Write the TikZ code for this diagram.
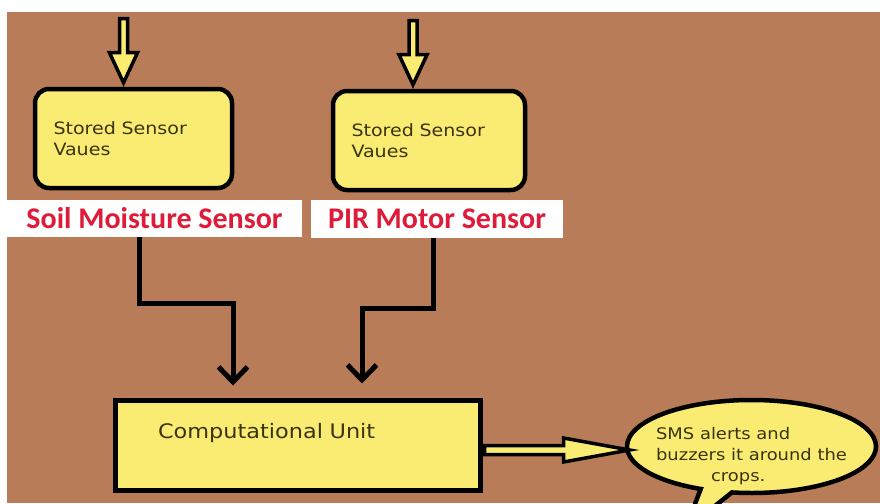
\documentclass[tikz,border=0pt]{standalone}
\usepackage{fontspec}
\newfontfamily\verd[FakeStretch=1.12]{DejaVu Sans}
\newfontfamily\labfont{Carlito}
\usetikzlibrary{arrows.meta, shapes.callouts}
\definecolor{soil}{RGB}{185,124,89}
\definecolor{boxyellow}{RGB}{250,236,115}
\definecolor{boxtext}{RGB}{58,52,14}
\definecolor{labred}{RGB}{222,28,58}
\tikzset{
	storebox/.style={rectangle, rounded corners=14pt, draw, line width=4.5pt, fill=boxyellow, minimum width=197pt, minimum height=99pt, text width=160pt, inner xsep=18pt, align=left, text=boxtext, font=\verd\fontsize{17}{21}\selectfont},
	namebox/.style={fill=white, inner sep=0pt, minimum height=37pt, text=labred, font=\labfont\bfseries\fontsize{30}{32}\selectfont},
	unitbox/.style={rectangle, draw, line width=5pt, fill=boxyellow, minimum width=365pt, minimum height=90pt, text width=279pt, inner xsep=43pt, align=left, text=boxtext, font=\verd\fontsize{20}{24}\selectfont},
	conn/.style={line width=5pt, -{Straight Barb[length=15pt, width=29pt]}},
	pics/blockarrow/.style n args={4}{code={
		\draw[line width=3.5pt, fill=boxyellow, line join=miter] (0,0) -- (-#2,#3) -- (-#2,#4) -- (-#1,#4) -- (-#1,-#4) -- (-#2,-#4) -- (-#2,-#3) -- cycle;
	}}
}
\begin{document}
\begin{tikzpicture}[x=1pt, y=-1pt]
	% Background, boxes and wires:
	\clip (0,0) rectangle (880,503);
	\fill[white] (0,0) rectangle (880,503);
	\fill[soil] (7,12) rectangle (880,503);
	\node[storebox] (s1) at (133.5,138.5) {Stored Sensor\\Vaues};
	\node[storebox, minimum width=192pt, text width=155pt] (s2) at (429,140.5) {Stored Sensor\\Vaues};
	\pic[rotate=-90] at ([xshift=-10pt,yshift=4pt]s1.north) {blockarrow={64}{30}{14}{4}};
	\pic[rotate=-90] at ([xshift=-16pt,yshift=4pt]s2.north) {blockarrow={64}{30}{14}{4}};
	\node[namebox, minimum width=295pt] (l1) at (154.5,218) {Soil Moisture Sensor};
	\node[namebox, minimum width=252pt, minimum height=38pt] (l2) at (437,219) {PIR Motor Sensor};
	\node[unitbox] (cu) at (297.5,445) {\raisebox{7pt}[0pt][0pt]{Computational Unit}};
	\draw[conn] ([xshift=-15.5pt]l1.south) -- ++(0,67) -| ([xshift=-64.5pt,yshift=12pt]cu.north);
	\draw[conn] ([xshift=-4pt]l2.south) -- ++(0,70) -| ([xshift=64.5pt,yshift=14pt]cu.north);
	\node[ellipse callout, draw, line width=4.5pt, fill=boxyellow, minimum width=249pt, minimum height=93pt, callout absolute pointer={(685,530)}] (sms) at (751.5,446.5) {};
	\node[align=left, inner sep=0pt, text=boxtext, font=\verd\fontsize{16}{21}\selectfont] (smstext) at ([yshift=-10pt]sms.center) {SMS alerts and\\buzzers it around the\\\hspace*{55pt}crops.};
	\pic at ([xshift=147pt,yshift=-5pt]cu.east) {blockarrow={145}{66}{12}{4.5}};
\end{tikzpicture}
\end{document}
